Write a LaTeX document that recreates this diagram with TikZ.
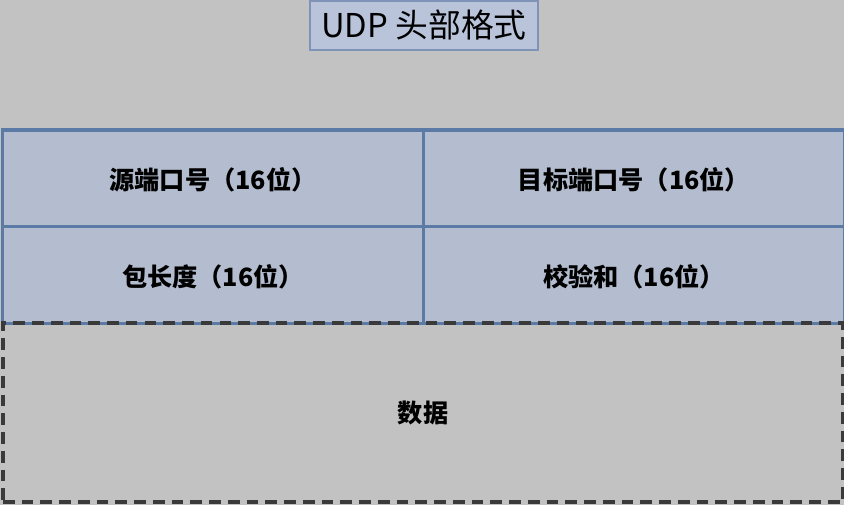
\documentclass[tikz,border=0pt]{standalone}
\usepackage{fontspec}
\newfontfamily\cjk{Noto Sans CJK SC}
\usepackage{tikz}

\definecolor{bggray}{HTML}{C2C2C2}
\definecolor{cellfill}{HTML}{B4BDCF}
\definecolor{cellline}{HTML}{5B7BA6}
\definecolor{titlefill}{HTML}{B9C4DA}
\definecolor{titleline}{HTML}{7F93B8}
\definecolor{dashline}{HTML}{3A3A3A}

\begin{document}
\begin{tikzpicture}[x=0.03cm,y=-0.03cm]
	\tikzstyle{title}=[rectangle,draw=titleline,fill=titlefill,line width=1pt,minimum width=6.84cm,minimum height=1.47cm,font=\cjk\fontsize{28}{32}\selectfont]
	\tikzstyle{field}=[rectangle,draw=cellline,fill=cellfill,line width=2.6pt,minimum width=12.63cm,minimum height=2.91cm,text depth=-0.1cm,font=\cjk\bfseries\fontsize{21.5}{26}\selectfont]
	\tikzstyle{payload}=[rectangle,draw=dashline,dash pattern=on 10pt off 6pt,line width=3pt,minimum width=25.2cm,minimum height=5.37cm,font=\cjk\bfseries\fontsize{21.5}{26}\selectfont]
	\path [fill=bggray] (0,0) rectangle (844,505);
	\useasboundingbox (0,0) rectangle (844,505);
	\node (head)  at (424,25.5)  [title]   {UDP 头部格式};
	\node (src)   at (213,178.5) [field]   {源端口号（16位）};
	\node (dst)   at (634,178.5) [field]   {目标端口号（16位）};
	\node (len)   at (213,275)   [field]   {包长度（16位）};
	\node (chk)   at (634,275)   [field]   {校验和（16位）};
	\node (data)  at (423,412.5) [payload] {数据};
\end{tikzpicture}
\end{document}
